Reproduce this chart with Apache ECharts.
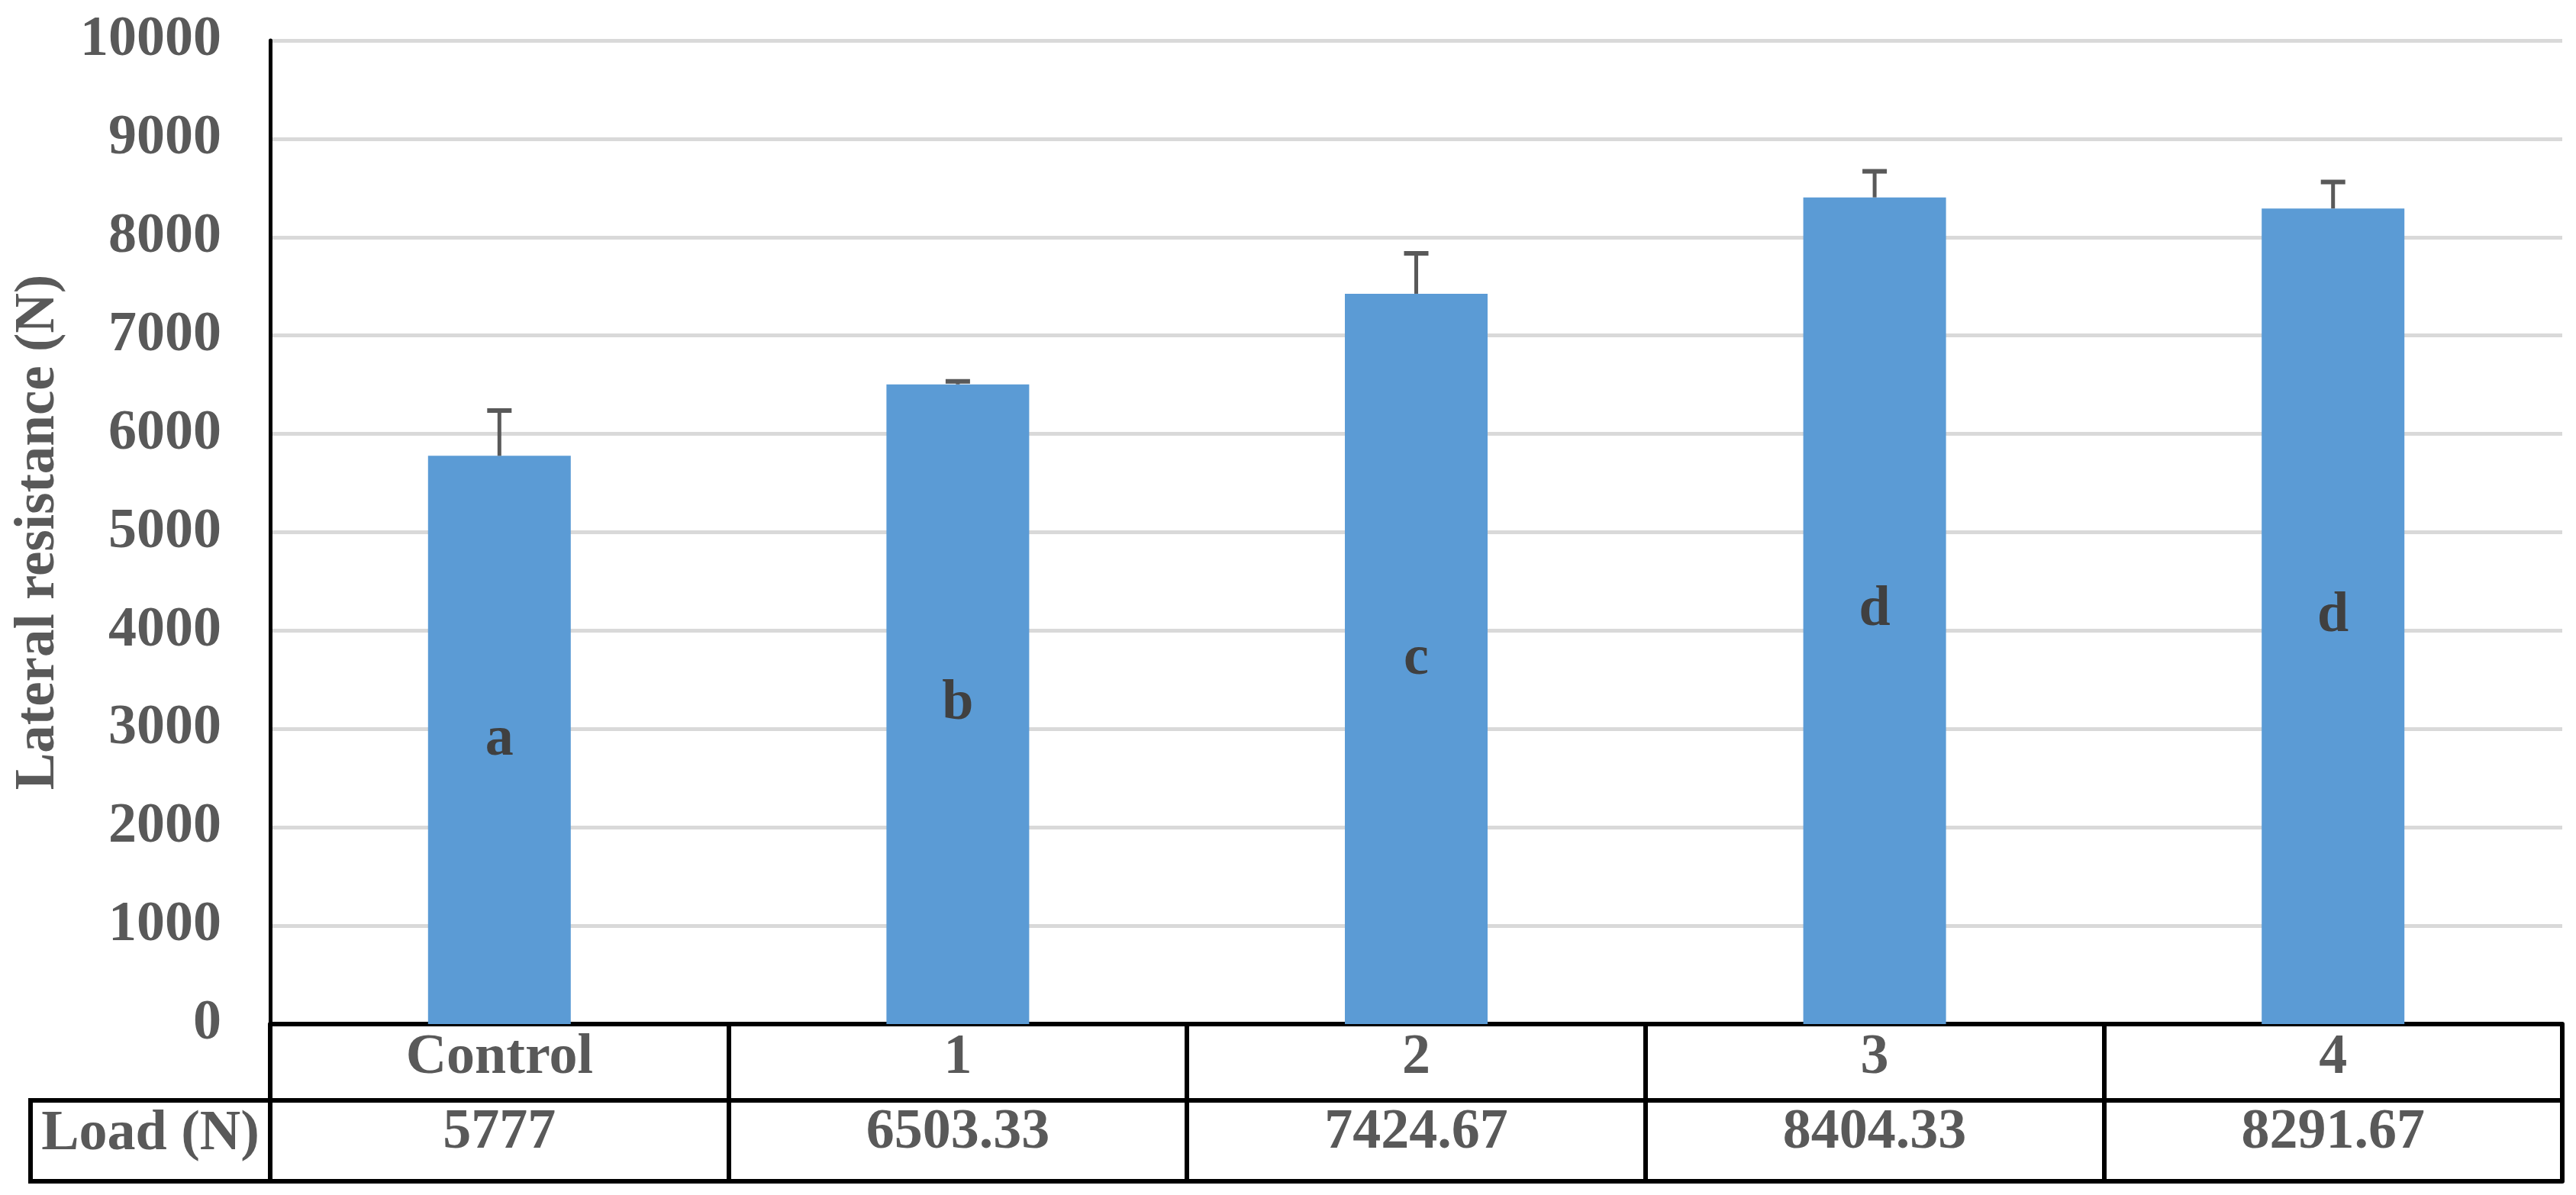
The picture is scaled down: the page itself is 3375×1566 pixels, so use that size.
<!DOCTYPE html>
<html>
<head>
	<meta charset="utf-8">
	<title>Lateral resistance</title>
	<script src="https://cdn.jsdelivr.net/npm/echarts@6/dist/echarts.min.js"></script>
	<style type="text/css">
		* {
			margin: 0;
			padding: 0;
		}

		body {
			background: #fff;
			overflow: hidden;
		}
	</style>
</head>
<body>
<div id="main" style="width: 3375px;height: 1566px;"></div>
</body>
<script type="text/javascript">
    // data
    var categories = ['Control', '1', '2', '3', '4'];
    var loads = [5777, 6503.33, 7424.67, 8404.33, 8291.67];
    var errors = [460, 30, 410, 265, 270];
    var letters = ['a', 'b', 'c', 'd', 'd'];
    var yTicks = [0, 10000, 1000]; // min, max, interval

    // layout
    var GRID_LEFT = 354;
    var GRID_RIGHT = 18;
    var GRID_TOP = 53;
    var GRID_BOTTOM = 224;
    var ROW1 = 100;
    var ROW2 = 106;
    var CELL_LEFT = 40;
    var H = 1566;

    var font = "'Liberation Serif', 'Times New Roman', serif";
    var textGray = '#595959';

    var errData = [];
    for (var i = 0; i < categories.length; i++) {
        errData.push([i, loads[i], errors[i]]);
    }

    function renderErrorBar(params, api) {
        var idx = api.value(0);
        var base = api.coord([idx, api.value(1)]);
        var top = api.coord([idx, api.value(1) + api.value(2)]);
        return {
            type: 'group',
            children: [{
                type: 'line',
                shape: {x1: base[0], y1: base[1], x2: top[0], y2: top[1]},
                style: {stroke: '#595959', lineWidth: 5}
            }, {
                type: 'line',
                shape: {x1: top[0] - 16, y1: top[1], x2: top[0] + 16, y2: top[1]},
                style: {stroke: '#595959', lineWidth: 6}
            }]
        };
    }

    var myChart = echarts.init(document.getElementById('main'));
    var row0 = H - GRID_BOTTOM;
    option = {
        animation: false,
        grid: {
            left: GRID_LEFT,
            right: GRID_RIGHT,
            top: GRID_TOP,
            bottom: GRID_BOTTOM,
            containLabel: false
        },
        xAxis: [{
            type: 'category',
            data: categories,
            position: 'bottom',
            axisLine: {show: true, lineStyle: {color: '#000', width: 6}},
            axisTick: {show: true, interval: 0, length: ROW1, lineStyle: {color: '#000', width: 6}},
            axisLabel: {
                interval: 0,
                margin: 8,
                fontSize: 74,
                fontWeight: 'bold',
                fontFamily: font,
                color: textGray
            },
            splitLine: {show: false}
        }, {
            type: 'category',
            data: loads.map(function (v) { return String(v); }),
            position: 'bottom',
            offset: ROW1,
            axisLine: {show: true, lineStyle: {color: '#000', width: 6}},
            axisTick: {show: true, interval: 0, length: ROW2, lineStyle: {color: '#000', width: 6}},
            axisLabel: {
                interval: 0,
                margin: 6,
                fontSize: 74,
                fontWeight: 'bold',
                fontFamily: font,
                color: textGray
            },
            splitLine: {show: false}
        }, {
            type: 'category',
            data: categories,
            position: 'bottom',
            offset: ROW1 + ROW2,
            axisLine: {show: true, lineStyle: {color: '#000', width: 6}},
            axisTick: {show: false},
            axisLabel: {show: false},
            splitLine: {show: false}
        }],
        yAxis: {
            type: 'value',
            min: yTicks[0],
            max: yTicks[1],
            interval: yTicks[2],
            name: 'Lateral resistance (N)',
            nameLocation: 'middle',
            nameGap: 266,
            nameRotate: 90,
            nameTextStyle: {
                fontSize: 73,
                fontWeight: 'bold',
                fontFamily: font,
                color: textGray
            },
            axisLine: {show: true, lineStyle: {color: '#000', width: 5}},
            axisTick: {show: false},
            axisLabel: {
                margin: 64,
                formatter: function (v) { return String(v); },
                fontSize: 74,
                fontWeight: 'bold',
                fontFamily: font,
                color: textGray
            },
            splitLine: {show: true, lineStyle: {color: '#d9d9d9', width: 5}}
        },
        graphic: [{
            type: 'rect',
            shape: {x: CELL_LEFT, y: row0 + ROW1, width: GRID_LEFT - CELL_LEFT, height: ROW2},
            style: {fill: 'none', stroke: '#000', lineWidth: 6}
        }, {
            type: 'text',
            x: (CELL_LEFT + GRID_LEFT) / 2,
            y: row0 + ROW1 + ROW2 / 2 - 8,
            style: {
                text: 'Load (N)',
                fontSize: 74,
                fontWeight: 'bold',
                fontFamily: font,
                fill: textGray,
                align: 'center',
                verticalAlign: 'middle'
            }
        }],
        series: [{
            name: 'Lateral resistance',
            type: 'bar',
            data: loads,
            barWidth: 187,
            itemStyle: {color: '#5B9BD5'},
            label: {
                show: true,
                position: 'inside',
                formatter: function (p) { return letters[p.dataIndex]; },
                fontSize: 74,
                fontWeight: 'bold',
                fontFamily: font,
                color: '#404040'
            },
            z: 2
        }, {
            name: 'error',
            type: 'custom',
            renderItem: renderErrorBar,
            data: errData,
            encode: {x: 0, y: 1},
            z: 3
        }]
    };
    myChart.setOption(option);
</script>

</html>
